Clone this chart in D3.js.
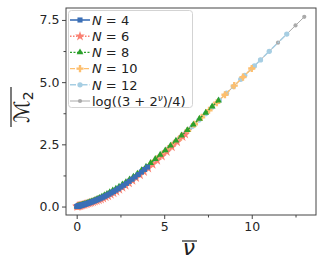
<!DOCTYPE html>
<html><head><meta charset="utf-8">
<script src="https://cdn.jsdelivr.net/npm/d3@7"></script>
<style>body{margin:0;background:#fff}svg{display:block}text{font-family:"DejaVu Sans",sans-serif}</style>
</head><body><svg id="c" width="324" height="270"></svg>
<script>
// ---- data ----
const refNu = [0,0.5,1,1.5,2,2.5,3,3.5,4,4.5,5,5.5,6,6.5,7,7.5,8,8.5,9,9.5,10,10.5,11,11.5,12,12.5,13];
const refY  = [0,0.099,0.223,0.376,0.560,0.772,1.012,1.275,1.558,1.857,2.169,2.490,2.818,3.152,3.489,3.829,4.170,4.514,4.858,5.203,5.548,5.894,6.240,6.586,6.932,7.279,7.625];

const n4Nu = [0.01,0.03,0.05,0.07,0.09,0.11,0.14,0.17,0.2,0.23,0.27,0.31,0.35,0.4,0.45,0.5,0.56,0.62,0.69,0.76,0.84,0.92,1.0,1.09,1.18,1.28,1.38,1.49,1.6,1.72,1.84,1.97,2.1,2.24,2.38,2.53,2.68,2.84,3.0,3.17,3.34,3.52,3.7,3.88,4.05];
const n4Y  = [0.002,0.005,0.009,0.012,0.016,0.020,0.025,0.031,0.037,0.042,0.050,0.058,0.066,0.077,0.088,0.099,0.112,0.126,0.143,0.160,0.180,0.201,0.223,0.249,0.275,0.305,0.337,0.373,0.411,0.453,0.498,0.548,0.600,0.658,0.718,0.786,0.855,0.932,1.012,1.099,1.188,1.286,1.386,1.489,1.587];

const n6Nu = [0.02,0.05,0.08,0.11,0.15,0.19,0.23,0.28,0.33,0.39,0.45,0.52,0.59,0.67,0.75,0.84,0.94,1.04,1.15,1.27,1.39,1.52,1.66,1.8,1.95,2.11,2.27,2.44,2.62,2.8,2.99,3.19,3.4,3.62,3.85,4.09,4.34,4.6,4.87,5.15,5.44,5.74,6.05,6.2];
const n6Y  = [0.003,0.008,0.013,0.018,0.025,0.032,0.039,0.048,0.058,0.070,0.082,0.097,0.110,0.126,0.142,0.160,0.180,0.205,0.235,0.265,0.295,0.335,0.380,0.425,0.480,0.540,0.605,0.680,0.760,0.845,0.940,1.040,1.150,1.270,1.400,1.540,1.690,1.850,2.020,2.200,2.390,2.590,2.800,2.900];

const n8Nu = [0.03,0.07,0.11,0.16,0.21,0.27,0.33,0.4,0.47,0.55,0.64,0.73,0.83,0.94,1.05,1.17,1.3,1.44,1.58,1.73,1.89,2.06,2.24,2.42,2.61,2.81,3.02,3.24,3.47,3.71,3.96,4.22,4.49,4.77,5.06,5.36,5.67,5.99,6.32,6.66,7.01,7.37,7.74,8.1];
const n8Y  = [0.006,0.014,0.022,0.032,0.044,0.058,0.072,0.089,0.107,0.128,0.152,0.177,0.205,0.230,0.265,0.305,0.350,0.400,0.455,0.510,0.575,0.645,0.720,0.800,0.885,0.980,1.085,1.200,1.325,1.460,1.600,1.750,1.910,2.080,2.260,2.450,2.650,2.855,3.070,3.295,3.530,3.770,4.020,4.265];

const n10Nu = [0.04,0.09,0.15,0.22,0.3,0.39,0.49,0.6,0.72,0.85,0.99,1.14,1.3,1.47,1.65,1.84,2.04,2.25,2.47,2.7,2.94,3.19,3.45,3.72,4.0,4.3,4.6,4.92,5.25,5.6,5.96,6.34,6.73,7.14,7.56,8.0,8.47,9.0,9.5,10.0];
const n10Y  = [0.007,0.016,0.027,0.040,0.056,0.075,0.096,0.121,0.150,0.183,0.220,0.263,0.312,0.366,0.428,0.498,0.576,0.662,0.758,0.865,0.982,1.109,1.248,1.397,1.558,1.736,1.919,2.118,2.329,2.555,2.792,3.045,3.306,3.584,3.870,4.170,4.493,4.858,5.203,5.548];

const n12Nu = [0.05,0.1,0.16,0.23,0.31,0.4,0.5,0.61,0.73,0.86,1.0,1.15,1.31,1.48,1.66,1.85,2.05,2.26,2.48,2.71,2.95,3.2,3.46,3.73,4.01,4.3,4.6,4.91,5.23,5.56,5.9,6.25,6.61,6.98,7.36,7.75,8.15,8.56,8.95,9.37,9.6,10.15,10.5,11.0,12.0];
const n12Y  = [0.009,0.018,0.029,0.042,0.058,0.077,0.099,0.124,0.152,0.185,0.223,0.266,0.315,0.370,0.432,0.502,0.580,0.667,0.763,0.870,0.987,1.114,1.253,1.403,1.564,1.736,1.919,2.112,2.316,2.529,2.752,2.985,3.226,3.475,3.733,3.999,4.273,4.555,4.823,5.113,5.272,5.652,5.894,6.240,6.932];

const xTicks = [0,5,10];
const xMinor = [2.5,7.5,12.5];
const yTicks = [0,2.5,5,7.5];
const yMinor = [1.25,3.75,6.25];
const legendLabels = ["4","6","8","10","12"];

// ---- chart ----
const svg = d3.select("#c");
const L=66,R=316,T=8,B=215;
const x = d3.scaleLinear().domain([-0.61,13.67]).range([L,R]);
const y = d3.scaleLinear().domain([-0.34,7.98]).range([B,T]);
const zip=(a,b)=>a.map((v,i)=>[v,b[i]]);

const series = [
  {name:"ref", pts:zip(refNu,refY), color:"#aaaaaa", dash:null, sym:d3.symbolCircle, size:14, lw:1},
  {name:"12", pts:zip(n12Nu,n12Y), color:"#a6cee3", dash:"6,2,1.5,2", sym:d3.symbolCircle, size:22, lw:1.4},
  {name:"10", pts:zip(n10Nu,n10Y), color:"#fdbf6f", dash:"5,2", sym:d3.symbolCross, size:28, lw:1.4},
  {name:"6", pts:zip(n6Nu,n6Y), color:"#fa8072", dash:"1.5,1.5", sym:d3.symbolStar, size:30, lw:1.4},
  {name:"8", pts:zip(n8Nu,n8Y), color:"#2ca02c", dash:"2,1.5", sym:d3.symbolTriangle, size:20, lw:1.4},
  {name:"4", pts:zip(n4Nu,n4Y), color:"#3b6fb6", dash:null, sym:d3.symbolSquare, size:26, lw:1.6},
];
const line = d3.line().x(d=>x(d[0])).y(d=>y(d[1]));
const g = svg.append("g");
series.forEach(s=>{
  g.append("path").attr("d",line(s.pts)).attr("fill","none").attr("stroke",s.color)
   .attr("stroke-width",s.lw).attr("stroke-dasharray",s.dash);
  g.selectAll(null).data(s.pts).enter().append("path")
   .attr("d",d3.symbol().type(s.sym).size(s.size))
   .attr("transform",d=>`translate(${x(d[0])},${y(d[1])})`)
   .attr("fill",s.color);
});

// frame
svg.append("rect").attr("x",L).attr("y",T).attr("width",R-L).attr("height",B-T)
  .attr("fill","none").attr("stroke","#444").attr("stroke-width",1);

// axes
const xa = svg.append("g").attr("transform",`translate(0,${B})`)
  .call(d3.axisBottom(x).tickValues(xTicks).tickFormat(d3.format("d")).tickSize(4).tickPadding(3));
const xm = svg.append("g").attr("transform",`translate(0,${B})`)
  .call(d3.axisBottom(x).tickValues(xMinor).tickFormat("").tickSize(2.5));
const ya = svg.append("g").attr("transform",`translate(${L},0)`)
  .call(d3.axisLeft(y).tickValues(yTicks).tickFormat(d3.format(".1f")).tickSize(4).tickPadding(2.5));
const ym = svg.append("g").attr("transform",`translate(${L},0)`)
  .call(d3.axisLeft(y).tickValues(yMinor).tickFormat("").tickSize(2.5));
[xa,xm,ya,ym].forEach(a=>{
  a.select(".domain").remove();
  a.selectAll("line").attr("stroke","#444");
  a.selectAll("text").attr("font-size","12.5px").attr("fill","#262626").attr("font-family","DejaVu Sans");
});

// x label
svg.append("text").attr("x",189).attr("y",255).attr("text-anchor","middle")
  .attr("font-size","22px").attr("font-style","italic").attr("fill","#222").text("ν");
svg.append("line").attr("x1",182).attr("x2",197).attr("y1",241).attr("y2",241).attr("stroke","#222").attr("stroke-width",1.2);

// y label
const yl = svg.append("g").attr("transform","translate(29,107) rotate(-90)");
const yt = yl.append("text").attr("text-anchor","middle").attr("font-size","21px").attr("fill","#222");
yt.append("tspan").text("ℳ");
yt.append("tspan").attr("font-size","14px").attr("dy",4).text("2");
yl.append("line").attr("x1",-20).attr("x2",20).attr("y1",-18).attr("y2",-18).attr("stroke","#222").attr("stroke-width",1.2);

// legend
const lg = svg.append("g");
lg.append("rect").attr("x",68.5).attr("y",10.5).attr("width",124).attr("height",97).attr("rx",3)
  .attr("fill","white").attr("fill-opacity",0.85).attr("stroke","#d3d3d3").attr("stroke-width",1);
const legOrder = ["4","6","8","10","12","ref"];
legOrder.forEach((k,i)=>{
  const s = series.find(t=>t.name===k);
  const cy = 20 + i*16.2;
  lg.append("line").attr("x1",70).attr("x2",90).attr("y1",cy).attr("y2",cy)
    .attr("stroke",s.color).attr("stroke-width",s.lw).attr("stroke-dasharray",s.dash);
  lg.append("path").attr("d",d3.symbol().type(s.sym).size(s.size)).attr("transform",`translate(80,${cy})`).attr("fill",s.color);
  const t = lg.append("text").attr("x",92).attr("y",cy+4.8).attr("font-size","13px").attr("fill","#222");
  if(k==="ref"){
    t.append("tspan").text("log((3 + 2");
    t.append("tspan").attr("font-size","9px").attr("font-style","italic").attr("dy",-5).text("ν");
    t.append("tspan").attr("dy",5).text(")/4)");
  } else {
    t.append("tspan").attr("font-style","italic").text("N");
    t.append("tspan").text(" = " + legendLabels[i]);
  }
});
</script></body></html>
